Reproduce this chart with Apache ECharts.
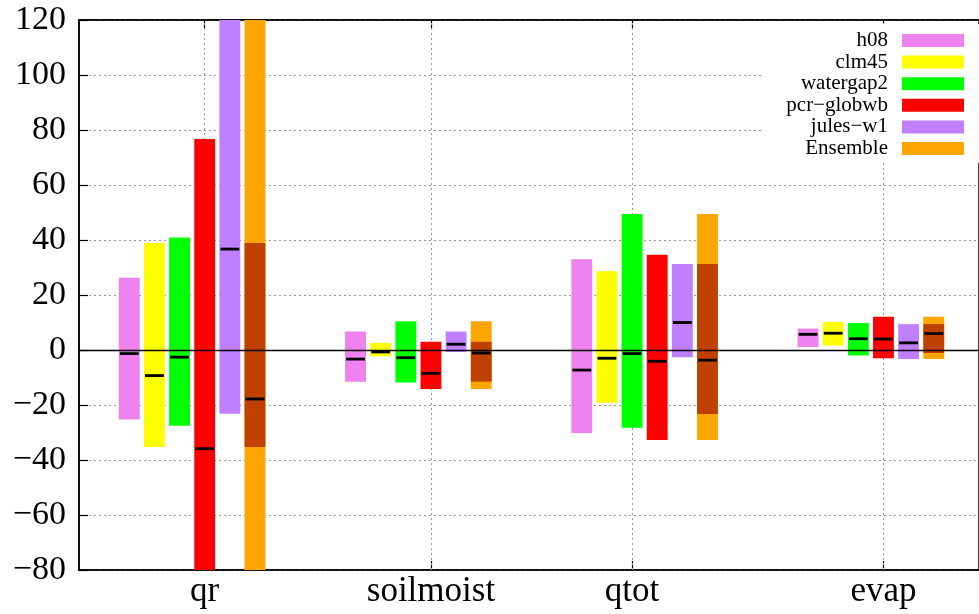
<!DOCTYPE html>
<html>
<head>
<meta charset="utf-8">
<script src="https://cdn.jsdelivr.net/npm/echarts@6/dist/echarts.min.js"></script>
<style>
  html, body { margin: 0; padding: 0; background: #fff; }
  #chart { width: 979px; height: 614px; }
</style>
</head>
<body>
<div id="chart"></div>
<script>
// variables on the x axis and the models drawn for each of them
const variables = ['qr', 'soilmoist', 'qtot', 'evap']
const models = ['h08', 'clm45', 'watergap2', 'pcr−globwb', 'jules−w1']

// rows: model, columns: variable
const lowValues = [
  [-25.3, -11.5, -30.2, 1.1],
  [-35.3, -2.3, -19.2, 1.6],
  [-27.5, -11.8, -28.3, -2.0],
  [-95, -14.2, -32.7, -3.0],
  [-23.2, -0.7, -2.6, -3.3]
]
const highValues = [
  [26.3, 6.7, 33.0, 7.8],
  [38.9, 2.6, 28.6, 10.2],
  [40.9, 10.5, 49.5, 9.8],
  [76.7, 3.0, 34.6, 12.1],
  [140, 6.7, 31.3, 9.4]
]
const medianValues = [
  [-1.3, -3.3, -7.3, 5.7],
  [-9.3, -0.7, -3.0, 6.1],
  [-2.6, -2.8, -1.3, 4.1],
  [-35.9, -8.5, -4.1, 4.0],
  [36.7, 2.1, 10.0, 2.6]
]
const ensembleMin = [-95, -14.2, -32.7, -3.3]
const ensembleMax = [140, 10.5, 49.5, 12.1]
const ensembleQ1 = [-35.3, -11.5, -23.3, -1.1]
const ensembleQ3 = [38.9, 3.0, 31.3, 9.4]
const ensembleMedian = [-17.8, -1.1, -3.7, 6.0]

const yMin = -80
const yMax = 120
const yStep = 20

// layout: one slot per bar, groups of 9 slots
const GROUP_START = 2
const GROUP_STEP = 9
const TICK_SLOT = [3, 3, 2, 3]
const HALF = 0.415
const colors = ['#ee82ee', '#ffff00', '#00ff00', '#ff0000', '#bf7fff']
const ensembleColor = '#ffa500'
const ensembleInner = '#c04000'
const FONT = '"Liberation Serif", "DejaVu Serif", serif'

const tickPos = variables.map((v, i) => GROUP_START + GROUP_STEP * i + TICK_SLOT[i])
const slotX = (v, m) => GROUP_START + GROUP_STEP * v + m

function clipped(a, b, cs) {
  return echarts.graphic.clipRectByRect({
    x: a[0], y: a[1], width: b[0] - a[0], height: b[1] - a[1]
  }, cs)
}

function medianShape(api, x, med, cs) {
  const a = api.coord([x - HALF, med])
  const b = api.coord([x + HALF, med])
  if (a[1] < cs.y || a[1] > cs.y + cs.height) return null
  return {
    type: 'rect',
    shape: { x: a[0] + 1, y: a[1] - 1.4, width: b[0] - a[0] - 2, height: 2.8 },
    style: { fill: '#000' }
  }
}

function modelItem(color) {
  return function (params, api) {
    const cs = params.coordSys
    const x = api.value(0)
    const box = clipped(api.coord([x - HALF, api.value(2)]), api.coord([x + HALF, api.value(1)]), cs)
    const children = []
    if (box) children.push({ type: 'rect', shape: box, style: { fill: color } })
    const m = medianShape(api, x, api.value(3), cs)
    if (m) children.push(m)
    return { type: 'group', children }
  }
}

function ensembleItem(params, api) {
  const cs = params.coordSys
  const x = api.value(0)
  const children = []
  const outer = clipped(api.coord([x - HALF, api.value(2)]), api.coord([x + HALF, api.value(1)]), cs)
  if (outer) children.push({ type: 'rect', shape: outer, style: { fill: ensembleColor } })
  const inner = clipped(api.coord([x - HALF, api.value(4)]), api.coord([x + HALF, api.value(3)]), cs)
  if (inner) children.push({ type: 'rect', shape: inner, style: { fill: ensembleInner } })
  const m = medianShape(api, x, api.value(5), cs)
  if (m) children.push(m)
  return { type: 'group', children }
}

const series = models.map((name, mi) => ({
  name,
  type: 'custom',
  itemStyle: { color: colors[mi] },
  renderItem: modelItem(colors[mi]),
  encode: { x: 0, y: [1, 2] },
  z: 3,
  data: variables.map((v, vi) => [slotX(vi, mi), lowValues[mi][vi], highValues[mi][vi], medianValues[mi][vi]])
}))

series.push({
  name: 'Ensemble',
  type: 'custom',
  itemStyle: { color: ensembleColor },
  renderItem: ensembleItem,
  encode: { x: 0, y: [1, 2] },
  z: 3,
  data: variables.map((v, vi) => [slotX(vi, 5), ensembleMin[vi], ensembleMax[vi], ensembleQ1[vi], ensembleQ3[vi], ensembleMedian[vi]])
})

// vertical dotted grid lines behind the bars
series.push({
  type: 'line',
  data: [],
  z: 1,
  markLine: {
    z: 1,
    silent: true,
    symbol: 'none',
    label: { show: false },
    lineStyle: { color: '#9a9a9a', type: [2, 3], width: 1 },
    data: tickPos.map(p => ({ xAxis: p }))
  }
})

// zero line on top of the bars
series.push({
  type: 'line',
  data: [],
  z: 5,
  markLine: {
    z: 6,
    silent: true,
    symbol: 'none',
    label: { show: false },
    lineStyle: { color: '#000', type: 'solid', width: 1.3 },
    data: [{ yAxis: 0 }]
  }
})

const xCommon = {
  type: 'value',
  min: 0,
  max: 35.8,
  splitLine: { show: false },
  axisLine: { show: true, onZero: false, lineStyle: { color: '#000', width: 1.5 } },
  axisTick: { show: true, inside: true, length: 9, customValues: tickPos, lineStyle: { color: '#000', width: 1.2 } }
}

const chart = echarts.init(document.getElementById('chart'))
chart.setOption({
  animation: false,
  backgroundColor: '#fff',
  grid: { left: 79, top: 20, width: 905, height: 550, show: true, borderColor: '#000', borderWidth: 1.5 },
  legend: {
    data: models.concat(['Ensemble']),
    orient: 'vertical',
    right: 0,
    top: 24,
    align: 'right',
    icon: 'rect',
    itemWidth: 62,
    itemHeight: 13,
    itemGap: 0.6,
    padding: [6, 15, 4, 24],
    backgroundColor: '#fff',
    selectedMode: false,
    textStyle: { fontFamily: FONT, fontSize: 21, color: '#000', lineHeight: 21, padding: [0, 9, 0, 0] }
  },
  xAxis: [
    Object.assign({}, xCommon, {
      position: 'bottom',
      axisLabel: {
        customValues: tickPos,
        formatter: v => variables[tickPos.indexOf(v)] || '',
        fontFamily: FONT, fontSize: 35, color: '#000', margin: 4
      }
    }),
    Object.assign({}, xCommon, { position: 'top', axisLabel: { show: false } })
  ],
  yAxis: {
    type: 'value',
    min: yMin,
    max: yMax,
    interval: yStep,
    axisLine: { show: true, lineStyle: { color: '#000', width: 1.5 } },
    axisTick: { show: true, inside: true, length: 9, lineStyle: { color: '#000', width: 1.2 } },
    axisLabel: {
      fontFamily: FONT, fontSize: 34, color: '#000', margin: 13,
      formatter: v => String(v).replace('-', '−')
    },
    splitLine: { show: true, lineStyle: { color: '#9a9a9a', type: [2, 3], width: 1 } }
  },
  series
})
</script>
</body>
</html>
